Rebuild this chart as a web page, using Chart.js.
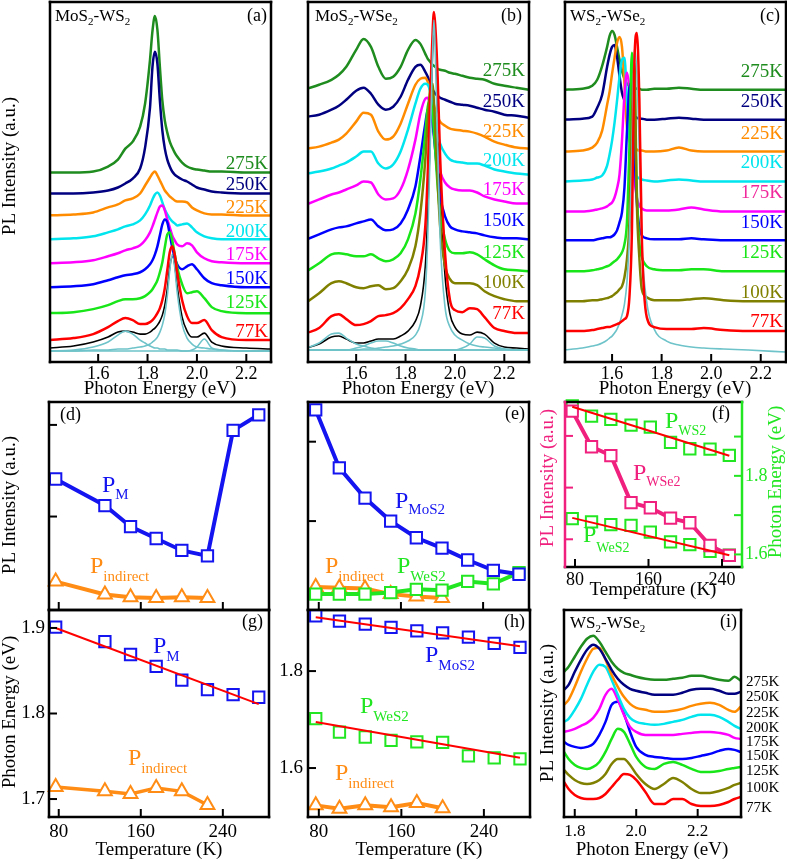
<!DOCTYPE html>
<html>
<head>
<meta charset="utf-8">
<script src="https://cdn.jsdelivr.net/npm/chart.js@4.4.0/dist/chart.umd.min.js"></script>
<style>
  body { margin: 0; background: #fff; width: 787px; height: 861px; overflow: hidden; position: relative; }
  canvas { position: absolute; left: 0; top: 0; }
</style>
</head>
<body>
<script>
// ---- spectra (a): MoS2-WS2, heights in a.u. ----
const eA = [1.40,1.50,1.58,1.64,1.68,1.71,1.74,1.77,1.79,1.81,1.82,1.83,1.84,1.85,1.86,1.87,1.88,1.89,1.90,1.91,1.92,1.94,1.96,1.98,2.00,2.03,2.06,2.10,2.20,2.30];
const a275 = [190,190,191,196,203,214,221,236,259,303,332,347,333,296,262,242,230,221,215,210,206,200,196,194,193,192,191,191,190,190];
const a250 = [169,169,170,172,175,179,184,194,215,255,296,311,299,262,232,214,203,196,191,188,186,183,181,178,175,173,171,170,169,169];
const a225 = [147,148,150,155,158,162,164,169,177,185,189,191,187,182,177,172,169,166,164,162,161,161,160,155,152,149,148,148,147,147];
const a200 = [123,124,126,130,133,136,138,142,148,157,163,168,170,167,160,153,148,144,141,139,137,138,139,135,130,126,124,123,123,123];
const a175 = [99,100,102,106,109,112,114,117,122,130,136,143,150,156,157,152,143,135,127,122,118,116,119,117,110,104,101,100,99,99];
const a150 = [75,76,78,82,85,87,88,90,93,98,102,108,116,127,138,143,140,128,115,105,98,93,96,98,93,84,79,77,75,75];
const a125 = [49,50,53,57,61,63,63,64,66,70,73,77,82,90,100,115,128,130,122,108,95,78,69,70,71,64,55,51,49,49];
const a77  = [22,24,28,35,41,44,42,38,38,40,42,45,49,54,62,74,92,110,116,108,90,62,46,39,39,42,32,25,22,22];
const aSum = [14,16,20,25,30,31,30,28,28,30,32,34,37,41,47,57,73,95,106,98,76,45,31,25,25,29,20,16,14,13];
const aFit1 = [11,12,15,20,27,31,28,22,19,16,15,14,14,13,13,13,12,12,12,12,12,11,11,11,11,11,11,11,11,11];
const aFit2 = [11,11,12,12,13,13,14,15,16,18,20,22,25,30,37,48,66,92,108,95,70,38,24,18,15,14,13,12,11,11];
const aFit3 = [11,11,11,11,11,11,11,11,11,11,11,11,11,11,11,11,11,11,11,11,11,11,11,12,15,23,14,12,11,11];

// ---- spectra (b): MoS2-WSe2 ----
const eB = [1.40,1.45,1.50,1.53,1.56,1.60,1.63,1.66,1.69,1.72,1.75,1.78,1.81,1.84,1.86,1.88,1.89,1.90,1.91,1.915,1.92,1.93,1.94,1.96,1.98,2.00,2.03,2.06,2.09,2.12,2.16,2.20,2.25,2.30];
const b275 = [274,278,283,288,296,313,324,316,296,284,286,296,313,323,319,309,304,301,298,297,296,294,293,292,290,289,287,285,284,283,279,277,275,273];
const b250 = [246,248,253,257,263,272,275,269,258,253,256,266,283,296,298,291,286,279,273,271,269,267,265,263,261,259,258,257,255,253,251,248,247,245];
const b225 = [214,216,220,223,229,241,250,248,231,223,226,239,259,278,284,285,281,273,263,258,253,246,241,237,234,233,232,231,229,226,221,218,215,214];
const b200 = [189,191,194,197,200,206,211,211,199,194,198,211,233,259,274,279,278,271,259,251,243,229,219,209,203,201,200,199,199,197,193,191,189,188];
const b175 = [158,163,168,170,173,177,181,180,168,163,164,173,193,223,249,264,265,256,239,229,219,203,191,180,175,173,172,172,170,166,163,161,159,159];
const b150 = [123,128,133,135,136,139,141,143,136,132,133,139,153,176,206,239,253,254,239,226,213,186,166,146,136,133,131,130,129,127,125,124,124,123];
const b125 = [91,99,108,109,108,106,106,108,104,101,103,109,123,149,183,229,256,263,249,231,213,176,149,123,111,109,109,110,108,103,97,93,92,91];
const b100 = [60,69,79,81,79,75,74,76,77,73,74,81,93,116,149,203,243,274,279,260,236,183,136,96,83,79,79,79,77,71,66,63,61,61];
const b77  = [29,34,46,48,43,37,38,41,46,47,49,54,63,76,96,136,190,266,333,351,339,286,206,109,62,52,50,54,53,45,34,31,29,29];
const bSum = [14,18,25,26,23,19,19,21,23,23,23,26,31,41,56,96,149,229,316,341,329,263,176,86,48,35,28,27,30,28,19,15,14,13];
const bFit1 = [14,19,28,29,24,18,16,14,13,12,12,12,12,12,12,12,12,12,12,12,12,12,12,12,12,12,12,12,12,12,12,12,12,12];
const bFit2 = [12,12,12,12,12,14,16,19,21,21,19,16,14,13,12,12,12,12,12,12,12,12,12,12,12,12,12,12,12,12,12,12,12,12];
const bFit3 = [12,12,12,12,12,12,13,13,14,15,16,18,21,27,38,70,125,215,315,343,315,215,125,55,35,27,22,18,16,15,14,13,12,12];
const bFit4 = [12,12,12,12,12,12,12,12,12,12,12,12,12,12,12,12,12,12,12,12,12,12,12,12,12,12,14,18,25,24,16,13,12,12];

// ---- spectra (c): WS2-WSe2 ----
const eC = [1.40,1.48,1.52,1.54,1.56,1.58,1.59,1.60,1.61,1.62,1.63,1.64,1.65,1.66,1.67,1.68,1.69,1.70,1.71,1.72,1.74,1.77,1.82,1.87,1.92,1.97,2.05,2.15,2.30];
const c275 = [273,274,277,283,297,316,327,332,328,316,303,292,284,279,277,276,275,274,274,273,273,274,274,275,274,273,273,273,273];
const c250 = [243,244,246,255,268,296,308,316,318,306,287,270,262,254,249,247,246,245,244,244,243,243,244,245,244,243,243,243,243];
const c225 = [211,212,215,220,232,258,271,289,305,320,326,316,279,236,222,217,215,213,212,212,211,211,212,215,212,211,211,211,211];
const c200 = [181,182,183,185,187,197,208,222,240,262,286,303,305,263,225,200,189,186,184,183,182,181,182,183,182,181,181,181,181];
const c175 = [151,151,152,153,154,156,158,160,165,174,188,222,268,290,272,218,184,165,157,154,152,152,152,153,155,153,151,151,151];
const c150 = [122,122,122,123,124,125,125,126,128,132,140,150,175,230,275,280,215,160,135,127,124,123,123,123,124,123,122,122,122];
const c125 = [91,91,92,93,94,96,97,99,101,103,106,110,118,140,215,310,270,170,120,105,96,93,92,92,93,93,91,91,91];
const c100 = [61,61,62,62,63,64,65,66,68,70,73,76,85,103,140,240,300,160,105,73,65,62,62,62,63,64,62,61,61];
const c77  = [31,31,32,33,34,35,35,36,37,38,39,41,43,46,65,130,300,330,265,125,45,35,33,33,33,34,32,31,31];
const cFit = [12,14,16,17,19,22,24,26,29,33,39,47,58,80,125,210,315,290,210,120,60,33,21,17,15,14,13,12,10];

// ---- spectra (i): WS2-WSe2, high energy ----
const eI = [1.765,1.78,1.80,1.82,1.84,1.86,1.88,1.90,1.92,1.94,1.96,1.98,2.00,2.03,2.06,2.09,2.12,2.15,2.18,2.21,2.24,2.27,2.30,2.32,2.34];
const i275 = [145,150,160,170,178,181,175,165,155,148,144,142,140,138,137,137,138,139,141,141,139,137,136,140,136];
const i250 = [127,132,145,157,167,172,168,158,147,138,132,128,126,124,122,122,122,124,127,128,128,126,123,123,125];
const i225 = [112,117,130,145,158,168,169,157,142,130,120,113,109,107,105,105,106,108,111,113,114,112,107,105,110];
const i200 = [95,98,107,118,132,145,152,150,137,122,108,99,95,93,92,93,95,97,100,102,102,100,95,91,88];
const i175 = [85,86,88,91,94,99,108,122,128,117,102,90,85,82,82,82,82,83,84,85,85,84,82,79,78];
const i150 = [75,72,70,69,70,73,82,95,112,115,103,85,70,62,60,59,58,58,59,61,63,66,68,67,65];
const i125 = [65,58,52,49,48,50,55,65,78,88,85,73,60,50,48,53,55,52,48,45,45,46,48,49,50];
const i100 = [47,42,37,34,33,34,37,43,53,58,58,52,43,33,28,33,39,35,28,24,24,26,29,32,34];
const i77  = [35,28,22,19,18,18,19,23,30,37,43,42,37,25,13,13,18,18,13,11,11,12,15,18,20];

// ---- temperature series ----
const tM = [77,125,150,175,200,225,250,275];
const tInd = [77,125,150,175,200,225];
const tE = [77,100,125,150,175,200,225,250,275];
const tEInd = [77,100,125,150,175,200];
const tF = [77,98,119,141,162,184,205,227,248];
const tFit = [77,275];
const tFitF = [77,248];

const dPM  = [1.41,1.12,0.89,0.76,0.63,0.57,1.94,2.11];
const dInd = [0.29,0.15,0.12,0.11,0.12,0.11];
const eMoS2 = [2.40,1.67,1.29,1.00,0.79,0.66,0.51,0.38,0.33];
const eWeS2 = [0.08,0.08,0.08,0.10,0.14,0.13,0.24,0.21,0.35];
const eInd  = [0.17,0.16,0.15,0.08,0.05,0.03];
const fWSe2 = [3.48,2.79,2.62,1.71,1.61,1.41,1.32,0.88,0.69];
const fWS2  = [1.978,1.952,1.944,1.929,1.924,1.885,1.869,1.868,1.852];
const fWeS2 = [1.691,1.683,1.676,1.674,1.657,1.632,1.625,1.608,1.598];
const fFitWS2 = [1.976,1.851];
const fFitWeS2 = [1.693,1.598];
const gPM  = [1.901,1.884,1.869,1.855,1.839,1.828,1.822,1.819];
const gInd = [1.714,1.709,1.706,1.713,1.709,1.693];
const gFit = [1.900,1.811];
const hMoS2 = [1.914,1.903,1.897,1.890,1.883,1.879,1.870,1.857,1.849];
const hWeS2 = [1.702,1.674,1.664,1.657,1.654,1.653,1.625,1.621,1.619];
const hInd  = [1.523,1.516,1.523,1.519,1.528,1.517];
const hFitMoS2 = [1.911,1.851];
const hFitWeS2 = [1.695,1.621];

const ticksE = [1.6,1.8,2.0,2.2];
const ticksEI = [1.8,2.0,2.2];
const ticksT = [80,160,240];

// ---- styling ----
const FONT = '"Liberation Serif", "Times New Roman", serif';
Chart.defaults.font.family = FONT;
const COL = { '275K':'#1e8c1e', '250K':'#000080', '225K':'#ff8c00', '200K':'#00e5ee', '175K':'#ff00ff',
              '150K':'#0000ff', '125K':'#19e619', '100K':'#808000', '77K':'#ff0000' };
const FIT = '#6dc3c9';
const BLUE = '#1414f0', ORANGE = '#ff8c14', GREEN = '#22e622', PINK = '#f0207e', RED = '#ff0000';

function pts(xs, ys) { return xs.map((x, i) => ({ x: x, y: ys[i] })); }

function drawRich(ctx, t) {
  const size = t.size || 17, sub = t.sub || Math.round(size * 0.65);
  const dy = t.dy != null ? t.dy : Math.round(size * 0.25);
  const parts = [];
  t.s.replace(/_\{([^}]*)\}|_(.)|([^_]+)/g, (m, a, b, c) => {
    if (c) parts.push({ s: c, sub: false }); else parts.push({ s: a || b, sub: true });
    return '';
  });
  let w = 0;
  parts.forEach(p => { ctx.font = (p.sub ? sub : size) + 'px ' + FONT; p.w = ctx.measureText(p.s).width; w += p.w; });
  ctx.save();
  ctx.translate(t.x, t.y);
  if (t.rot) ctx.rotate(-Math.PI / 2);
  let x = t.align === 'right' ? -w : t.align === 'center' ? -w / 2 : 0;
  ctx.fillStyle = t.color || '#000';
  ctx.textAlign = 'left';
  ctx.textBaseline = 'alphabetic';
  parts.forEach(p => {
    ctx.font = (p.sub ? sub : size) + 'px ' + FONT;
    ctx.fillText(p.s, x, p.sub ? dy : 0);
    x += p.w;
  });
  ctx.restore();
}

// frame, inward tick marks and annotation text
function panelPlugin(spec) {
  return {
    id: 'panel',
    afterDraw(chart) {
      const ctx = chart.ctx, a = chart.chartArea;
      ctx.save();
      ctx.lineWidth = 2;
      (spec.ticks || []).forEach(t => {
        const s = chart.scales[t.scale];
        ctx.strokeStyle = t.color || '#000';
        s.ticks.forEach(tk => {
          const p = s.getPixelForValue(tk.value);
          ctx.beginPath();
          if (t.side === 'bottom') { ctx.moveTo(p, a.bottom); ctx.lineTo(p, a.bottom - 8); }
          if (t.side === 'left') { ctx.moveTo(a.left, p); ctx.lineTo(a.left + 8, p); }
          if (t.side === 'right') { ctx.moveTo(a.right, p); ctx.lineTo(a.right - 8, p); }
          ctx.stroke();
        });
      });
      const sc = spec.sides || {};
      ctx.lineWidth = 2.5;
      ctx.lineCap = 'square';
      const seg = (c, x1, y1, x2, y2) => {
        ctx.strokeStyle = c || '#000';
        ctx.beginPath(); ctx.moveTo(x1, y1); ctx.lineTo(x2, y2); ctx.stroke();
      };
      seg(sc.top, a.left, a.top, a.right, a.top);
      seg(sc.bottom, a.left, a.bottom, a.right, a.bottom);
      seg(sc.left, a.left, a.top, a.left, a.bottom);
      seg(sc.right, a.right, a.top, a.right, a.bottom);
      (spec.texts || []).forEach(t => drawRich(ctx, t));
      ctx.restore();
    }
  };
}

// linear axis with a fixed box size (labels need a box, or Chart.js clips them away)
function lin(pos, min, max, ticks, lab) {
  const vertical = pos === 'left' || pos === 'right';
  const box = lab ? lab.box : 0;
  return {
    type: 'linear', position: pos, min: min, max: max, boxSize: box,
    afterFit: s => { if (vertical) s.width = box; else s.height = box; },
    afterBuildTicks: s => { s.ticks = ticks.map(v => ({ value: v })); },
    grid: { display: false, drawTicks: false },
    border: { display: false },
    ticks: {
      display: !!lab, padding: lab ? lab.pad : 0, autoSkip: false, maxRotation: 0,
      color: (lab && lab.color) || '#000',
      font: { family: FONT, size: lab ? lab.size : 12 },
      callback: v => lab ? lab.fmt(v) : ''
    }
  };
}

function makeChart(frame, scales, datasets, spec) {
  const c = document.createElement('canvas');
  c.width = 787; c.height = 861;
  c.style.width = '787px'; c.style.height = '861px';
  document.body.appendChild(c);
  const pad = { left: frame[0], top: frame[1], right: 787 - frame[2], bottom: 861 - frame[3] };
  Object.values(scales).forEach(s => { pad[s.position] -= s.boxSize; });
  return new Chart(c, {
    type: 'line',
    data: { datasets: datasets },
    options: {
      responsive: false, animation: false, devicePixelRatio: 1, events: [],
      layout: { padding: pad },
      scales: scales,
      plugins: { legend: { display: false }, tooltip: { enabled: false } }
    },
    plugins: [panelPlugin(spec)]
  });
}

function spec(xs, ys, color, w) {
  return { data: pts(xs, ys), borderColor: color, borderWidth: w, pointRadius: 0,
           cubicInterpolationMode: 'monotone', fill: false };
}

function marks(xs, ys, color, style, line, axis) {
  return { data: pts(xs, ys), borderColor: color, borderWidth: line || 0, showLine: !!line,
           pointStyle: style, pointRadius: 8, pointBorderWidth: 2, pointBorderColor: color,
           pointBackgroundColor: '#fff', yAxisID: axis || 'y', clip: false };
}

function fitLine(xs, ys, axis) {
  return { data: pts(xs, ys), borderColor: RED, borderWidth: 2, pointRadius: 0, yAxisID: axis || 'y', clip: false };
}

const fmt1 = v => v.toFixed(1);
const fmtT = v => String(v);
const labels = (names, ys, x, align, size, colors) =>
  names.map((n, i) => ({ s: n, x: x, y: ys[i], size: size, align: align, color: colors ? colors[n] : '#000' }));
const xE = { size: 18, pad: 1, box: 30, fmt: fmt1 };

// ---- (a) ----
makeChart([50, 2, 271, 362],
  { x: lin('bottom', 1.405, 2.3, ticksE, xE), y: lin('left', 0, 361, [0], null) },
  [spec(eA, a77, COL['77K'], 2.5), spec(eA, a125, COL['125K'], 2.5), spec(eA, a150, COL['150K'], 2.5),
   spec(eA, a175, COL['175K'], 2.5), spec(eA, a200, COL['200K'], 2.5), spec(eA, a225, COL['225K'], 2.5),
   spec(eA, a250, COL['250K'], 2.5), spec(eA, a275, COL['275K'], 2.5),
   spec(eA, aFit1, FIT, 1.6), spec(eA, aFit2, FIT, 1.6), spec(eA, aFit3, FIT, 1.6), spec(eA, aSum, '#000', 1.6)],
  { ticks: [{ scale: 'x', side: 'bottom' }],
    texts: [
      { s: 'MoS_2-WS_2', x: 55, y: 21, size: 17, sub: 11, dy: 4 },
      { s: '(a)', x: 267, y: 21, size: 18, align: 'right' },
      ...labels(['275K','250K','225K','200K','175K','150K','125K','77K'],
                [169, 190, 213, 237, 260, 284, 308, 337], 268, 'right', 19, COL),
      { s: 'Photon Energy (eV)', x: 160, y: 394, size: 19, align: 'center' },
      { s: 'PL Intensity (a.u.)', x: 15, y: 166, size: 19, align: 'center', rot: true }
    ] });

// ---- (b) ----
makeChart([308, 2, 529, 362],
  { x: lin('bottom', 1.405, 2.3, ticksE, xE), y: lin('left', 0, 361, [0], null) },
  [spec(eB, bFit3, FIT, 1.6), spec(eB, b77, COL['77K'], 2.5), spec(eB, b100, COL['100K'], 2.5),
   spec(eB, b125, COL['125K'], 2.5), spec(eB, b150, COL['150K'], 2.5), spec(eB, b175, COL['175K'], 2.5),
   spec(eB, b200, COL['200K'], 2.5), spec(eB, b225, COL['225K'], 2.5), spec(eB, b250, COL['250K'], 2.5),
   spec(eB, b275, COL['275K'], 2.5),
   spec(eB, bFit1, FIT, 1.6), spec(eB, bFit2, FIT, 1.6), spec(eB, bFit4, FIT, 1.6), spec(eB, bSum, '#000', 1.6)],
  { ticks: [{ scale: 'x', side: 'bottom' }],
    texts: [
      { s: 'MoS_2-WSe_2', x: 315, y: 21, size: 17, sub: 11, dy: 4 },
      { s: '(b)', x: 522, y: 21, size: 18, align: 'right' },
      ...labels(['275K','250K','225K','200K','175K','150K','125K','100K','77K'],
                [76, 107, 137, 166, 195, 226, 258, 288, 319], 525, 'right', 19, COL),
      { s: 'Photon Energy (eV)', x: 418, y: 394, size: 19, align: 'center' }
    ] });

// ---- (c) ----
const COLc = Object.assign({}, COL, { '175K': '#f0289b' });
makeChart([565, 2, 786, 362],
  { x: lin('bottom', 1.41, 2.302, ticksE, xE), y: lin('left', 0, 361, [0], null) },
  [spec(eC, c77, COL['77K'], 2.5), spec(eC, cFit, FIT, 1.6), spec(eC, c100, COL['100K'], 2.5),
   spec(eC, c125, COL['125K'], 2.5), spec(eC, c150, COL['150K'], 2.5), spec(eC, c175, COL['175K'], 2.5),
   spec(eC, c200, COL['200K'], 2.5), spec(eC, c225, COL['225K'], 2.5), spec(eC, c250, COL['250K'], 2.5),
   spec(eC, c275, COL['275K'], 2.5)],
  { ticks: [{ scale: 'x', side: 'bottom' }],
    texts: [
      { s: 'WS_2-WSe_2', x: 570, y: 21, size: 17, sub: 11, dy: 4 },
      { s: '(c)', x: 780, y: 21, size: 18, align: 'right' },
      ...labels(['275K','250K','225K','200K','175K','150K','125K','100K','77K'],
                [77, 107, 139, 168, 198, 228, 258, 298, 327], 783, 'right', 19, COLc),
      { s: 'Photon Energy (eV)', x: 675, y: 394, size: 19, align: 'center' }
    ] });

// ---- (d) ----
makeChart([49, 402, 269, 610],
  { x: lin('bottom', 70.5, 285, ticksT, null), y: lin('left', -0.02, 2.25, [1, 2], null) },
  [marks(tM, dPM, BLUE, 'rect', 4), marks(tInd, dInd, ORANGE, 'triangle', 4)],
  { ticks: [{ scale: 'x', side: 'bottom' }, { scale: 'y', side: 'left' }],
    texts: [
      { s: '(d)', x: 60, y: 420, size: 18 },
      { s: 'P_{M}', x: 102, y: 492, size: 24, sub: 15, dy: 7, color: BLUE },
      { s: 'P_{indirect}', x: 90, y: 573, size: 24, sub: 15, dy: 8, color: ORANGE },
      { s: 'PL Intensity (a.u.)', x: 15, y: 505, size: 19, align: 'center', rot: true }
    ] });

// ---- (e) ----
makeChart([308, 402, 529, 610],
  { x: lin('bottom', 69.5, 284.7, ticksT, null), y: lin('left', -0.12, 2.5, [1, 2], null) },
  [marks(tE, eMoS2, BLUE, 'rect', 4), marks(tE, eWeS2, GREEN, 'rect', 4), marks(tEInd, eInd, ORANGE, 'triangle', 4)],
  { ticks: [{ scale: 'x', side: 'bottom' }, { scale: 'y', side: 'left' }],
    texts: [
      { s: '(e)', x: 525, y: 419, size: 18, align: 'right' },
      { s: 'P_{MoS2}', x: 395, y: 508, size: 24, sub: 15, dy: 6, color: BLUE },
      { s: 'P_{indirect}', x: 325, y: 573, size: 24, sub: 15, dy: 8, color: ORANGE },
      { s: 'P_{WeS2}', x: 397, y: 573, size: 24, sub: 15, dy: 8, color: GREEN }
    ] });

// ---- (f) ----
makeChart([565, 402, 742, 567],
  { x: lin('bottom', 69.1, 261.8, ticksT, { size: 18, pad: 2, box: 25, fmt: fmtT }),
    y: lin('left', 0.464, 3.656, [1, 2, 3], null),
    y2: lin('right', 1.568, 1.988, [1.6, 1.7, 1.8, 1.9],
            { size: 18, pad: 3, box: 35, color: GREEN,
              fmt: v => (Math.abs(v - 1.6) < 1e-6 || Math.abs(v - 1.8) < 1e-6) ? v.toFixed(1) : '' }) },
  [fitLine(tFitF, fFitWS2, 'y2'), fitLine(tFitF, fFitWeS2, 'y2'),
   marks(tF, fWSe2, PINK, 'rect', 4, 'y'), marks(tF, fWS2, GREEN, 'rect', 0, 'y2'), marks(tF, fWeS2, GREEN, 'rect', 0, 'y2')],
  { sides: { left: PINK, right: GREEN },
    ticks: [{ scale: 'x', side: 'bottom' }, { scale: 'y', side: 'left', color: PINK }, { scale: 'y2', side: 'right', color: GREEN }],
    texts: [
      { s: '(f)', x: 730, y: 419, size: 18, align: 'right' },
      { s: 'P_{WS2}', x: 665, y: 428, size: 24, sub: 14, dy: 7, color: GREEN },
      { s: 'P_{WSe2}', x: 633, y: 480, size: 24, sub: 14, dy: 6, color: PINK },
      { s: 'P_{WeS2}', x: 583, y: 542, size: 24, sub: 14, dy: 10, color: GREEN },
      { s: 'Temperature (K)', x: 653, y: 595, size: 19, align: 'center' },
      { s: 'PL Intensity (a.u.)', x: 553, y: 478, size: 19, align: 'center', rot: true, color: PINK },
      { s: 'Photon Energy (eV)', x: 781, y: 482, size: 19, align: 'center', rot: true, color: GREEN }
    ] });

// ---- (g) ----
makeChart([49, 610, 269, 817],
  { x: lin('bottom', 70.5, 285, ticksT, { size: 19, pad: 4, box: 30, fmt: fmtT }),
    y: lin('left', 1.679, 1.921, [1.7, 1.8, 1.9], { size: 19, pad: 4, box: 45, fmt: fmt1 }) },
  [fitLine(tFit, gFit), marks(tM, gPM, BLUE, 'rect', 0), marks(tInd, gInd, ORANGE, 'triangle', 3.5)],
  { ticks: [{ scale: 'x', side: 'bottom' }, { scale: 'y', side: 'left' }],
    texts: [
      { s: '(g)', x: 263, y: 627, size: 18, align: 'right' },
      { s: 'P_{M}', x: 153, y: 653, size: 24, sub: 15, dy: 8, color: BLUE },
      { s: 'P_{indirect}', x: 128, y: 765, size: 24, sub: 15, dy: 8, color: ORANGE },
      { s: 'Photon Energy (eV)', x: 15, y: 712, size: 19, align: 'center', rot: true },
      { s: 'Temperature (K)', x: 159, y: 855, size: 19, align: 'center' }
    ] });

// ---- (h) ----
makeChart([308, 610, 530, 817],
  { x: lin('bottom', 69.5, 284.7, ticksT, { size: 19, pad: 4, box: 30, fmt: fmtT }),
    y: lin('left', 1.499, 1.926, [1.6, 1.8], { size: 19, pad: 5, box: 40, fmt: fmt1 }) },
  [fitLine(tFit, hFitMoS2), fitLine(tFit, hFitWeS2),
   marks(tE, hMoS2, BLUE, 'rect', 0), marks(tE, hWeS2, GREEN, 'rect', 0), marks(tEInd, hInd, ORANGE, 'triangle', 4)],
  { ticks: [{ scale: 'x', side: 'bottom' }, { scale: 'y', side: 'left' }],
    texts: [
      { s: '(h)', x: 525, y: 627, size: 18, align: 'right' },
      { s: 'P_{MoS2}', x: 425, y: 662, size: 24, sub: 15, dy: 8, color: BLUE },
      { s: 'P_{WeS2}', x: 360, y: 713, size: 24, sub: 15, dy: 8, color: GREEN },
      { s: 'P_{indirect}', x: 335, y: 780, size: 24, sub: 15, dy: 8, color: ORANGE },
      { s: 'Temperature (K)', x: 419, y: 855, size: 19, align: 'center' }
    ] });

// ---- (i) ----
makeChart([564, 610, 741, 817],
  { x: lin('bottom', 1.765, 2.341, ticksEI, { size: 17, pad: 4, box: 30, fmt: fmt1 }), y: lin('left', 0, 206.7, [0], null) },
  [spec(eI, i275, COL['275K'], 2.5), spec(eI, i250, COL['250K'], 2.5), spec(eI, i225, COL['225K'], 2.5),
   spec(eI, i200, COL['200K'], 2.5), spec(eI, i175, COL['175K'], 2.5), spec(eI, i150, COL['150K'], 2.5),
   spec(eI, i125, COL['125K'], 2.5), spec(eI, i100, COL['100K'], 2.5), spec(eI, i77, COL['77K'], 2.5)],
  { ticks: [{ scale: 'x', side: 'bottom' }],
    texts: [
      { s: 'WS_2-WSe_2', x: 570, y: 628, size: 17, sub: 11, dy: 4 },
      { s: '(i)', x: 737, y: 627, size: 18, align: 'right' },
      ...labels(['275K','250K','225K','200K','175K','150K','125K','100K','77K'],
                [686, 701, 717, 732, 746, 760, 775, 792, 812], 746, 'left', 15, null),
      { s: 'Photon Energy (eV)', x: 652, y: 855, size: 19, align: 'center' },
      { s: 'PL Intensity (a.u.)', x: 553, y: 713, size: 19, align: 'center', rot: true }
    ] });
</script>
</body>
</html>
